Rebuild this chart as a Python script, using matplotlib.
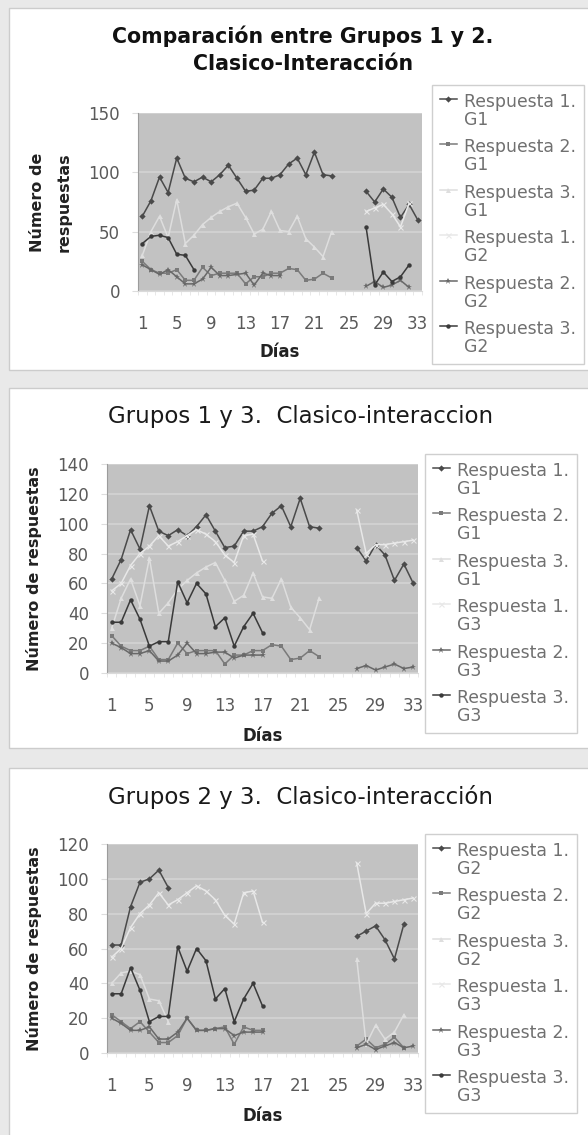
import numpy as np
import matplotlib
matplotlib.use("Agg")
import matplotlib.pyplot as plt
from matplotlib.patches import Rectangle

W, H = 588, 1135
N = None

days = list(range(1, 34))
xtick_days = [1, 5, 9, 13, 17, 21, 25, 29, 33]

# Grupo 1 (dias 1-23 y 27-33)
g1_r1 = [63, 76, 96, 83, 112, 95, 92, 96, 92, 98, 106, 95, 84, 85, 95, 95, 98, 107, 112, 98, 117, 98, 97,
         N, N, N, 84, 75, 86, 79, 62, 73, 60]
g1_r2 = [25, 18, 15, 15, 18, 9, 9, 20, 13, 15, 15, 15, 6, 12, 12, 15, 15, 19, 18, 9, 10, 15, 11,
         N, N, N, N, N, N, N, N, N, N]
g1_r3 = [30, 50, 63, 45, 77, 40, 47, 56, 62, 67, 71, 74, 62, 48, 52, 67, 51, 50, 63, 44, 37, 29, 50,
         N, N, N, N, N, N, N, N, N, N]
# Grupo 2
g2_r1 = [62, 62, 84, 98, 100, 105, 95, N, N, N, N, N, N, N, N, N, N, N, N, N, N, N, N,
         N, N, N, 67, 70, 73, 65, 54, 74, N]
# in the first chart only the late part of this series shows up
g2_r1_c1 = [N, N, N, N, N, N, N, N, N, N, N, N, N, N, N, N, N, N, N, N, N, N, N,
            N, N, N, 67, 70, 73, 65, 54, 74, N]
g2_r2 = [22, 18, 14, 18, 12, 6, 6, 10, 20, 13, 13, 14, 15, 5, 15, 13, 13, N, N, N, N, N, N,
         N, N, N, 4, 8, 3, 5, 9, 3, N]
g2_r3 = [40, 46, 47, 45, 31, 30, 18, N, N, N, N, N, N, N, N, N, N, N, N, N, N, N, N,
         N, N, N, 54, 5, 16, 8, 12, 22, N]
# Grupo 3
g3_r1 = [55, 60, 72, 80, 85, 92, 85, 88, 92, 96, 93, 88, 79, 74, 92, 93, 75, N, N, N, N, N, N,
         N, N, N, 109, 80, 86, 86, 87, 88, 89]
g3_r2 = [20, 17, 13, 13, 15, 8, 8, 12, 20, 13, 13, 14, 14, 10, 12, 12, 12, N, N, N, N, N, N,
         N, N, N, 3, 5, 2, 4, 6, 3, 4]
g3_r3 = [34, 34, 49, 36, 18, 21, 21, 61, 47, 60, 53, 31, 37, 18, 31, 40, 27, N, N, N, N, N, N,
         N, N, N, N, N, N, N, N, N, N]

# Excel grey-scale series styles: (colour, marker, size)
STYLES = [("#4a4a4a", "D", 3.2), ("#7a7a7a", "s", 3.2), ("#dedede", "^", 3.6),
          ("#e8e8e8", "x", 3.6), ("#686868", "*", 4.5), ("#3a3a3a", "o", 3.2)]

plt.rcParams.update({"font.family": "DejaVu Sans"})
fig = plt.figure(figsize=(W / 100, H / 100), dpi=100, facecolor="#e9e9e9")


def panel(y0, y1):
    fig.patches.append(Rectangle((9 / W, 1 - y1 / H), (W + 5 - 9) / W, (y1 - y0) / H,
                                 transform=fig.transFigure, facecolor="white",
                                 edgecolor="#cccccc", lw=1, zorder=-5))


def chart(box, series, labels, ymax, ystep, leg_xy, ylab, ylab_x, xlab_y):
    x0, y0, x1, y1 = box
    ax = fig.add_axes([x0 / W, 1 - y1 / H, (x1 - x0) / W, (y1 - y0) / H])
    ax.set_facecolor("#c2c2c2")
    for vals, lab, (c, m, ms) in zip(series, labels, STYLES):
        ax.plot(days, np.array(vals, dtype=float), color=c, marker=m, ms=ms, mew=0.8 if m == "x" else 0,
                mec=c, lw=1.1, label=lab, clip_on=False)
    ax.set_xlim(0.5, 33.5)
    ax.set_ylim(0, ymax)
    ax.set_yticks(range(0, ymax + 1, ystep))
    ax.set_xticks(xtick_days)
    ax.set_xticks(np.arange(0.5, 34.0, 1.0), minor=True)
    ax.grid(axis="y", color="#d0d0d0", lw=1.5)
    ax.set_axisbelow(True)
    for s in ("top", "right"):
        ax.spines[s].set_visible(False)
    ax.spines["left"].set_color("#9c9c9c")
    ax.spines["bottom"].set_color("#dadada")
    ax.tick_params(axis="x", which="major", length=0, pad=17, labelsize=12, labelcolor="#5a5a5a")
    ax.tick_params(axis="x", which="minor", length=3, color="#e4e4e4")
    ax.tick_params(axis="y", length=4, color="#dddddd", pad=9, labelsize=12, labelcolor="#5a5a5a")
    ax.set_xlabel("Días", fontsize=12, fontweight="bold", color="#222222")
    ax.xaxis.set_label_coords(0.5, xlab_y)
    ax.xaxis.label.set_va("center")
    ax.set_ylabel(ylab, fontsize=11.5, fontweight="bold", color="#222222", linespacing=2.0)
    ax.yaxis.set_label_coords(ylab_x, 0.5)
    ax.yaxis.label.set_va("center")
    leg = ax.legend(loc="upper left", bbox_to_anchor=(leg_xy[0] / W, 1 - leg_xy[1] / H),
                    bbox_transform=fig.transFigure, frameon=True, fancybox=False,
                    edgecolor="#cfcfcf", framealpha=1, fontsize=12.4, handlelength=1.0,
                    handletextpad=0.4, labelspacing=0.55, borderpad=0.45, borderaxespad=0)
    leg.get_frame().set_linewidth(1.0)
    for t in leg.get_texts():
        t.set_color("#707070")
        t.set_linespacing(1.0)
    # keep each legend marker level with the first line of its label
    for col in leg._legend_handle_box.get_children():
        for row in col.get_children():
            row.align = "top"
    return ax


def labels_for(a, b):
    return [f"Respuesta {r}.\nG{g}" for g in (a, b) for r in (1, 2, 3)]


panel(8, 370)
panel(388, 748)
panel(768, 1140)

# Chart 1
chart((138, 113, 422, 291), [g1_r1, g1_r2, g1_r3, g2_r1_c1, g2_r2, g2_r3], labels_for(1, 2),
      150, 50, (432, 85), "Número de\nrespuestas", -0.306, -0.34)
fig.text(303 / W, 1 - 50 / H, "Comparación entre Grupos 1 y 2.\nClasico-Interacción",
         ha="center", va="center", fontsize=14.8, fontweight="bold", linespacing=1.45, color="#111111")

# Chart 2
chart((107, 464, 418, 673), [g1_r1, g1_r2, g1_r3, g3_r1, g3_r2, g3_r3], labels_for(1, 3),
      140, 20, (425, 454), "Número de respuestas", -0.235, -0.30)
fig.text(301 / W, 1 - 417 / H, "Grupos 1 y 3.  Clasico-interaccion",
         ha="center", va="center", fontsize=16.5, color="#1a1a1a")

# Chart 3
chart((107, 844, 418, 1053), [g2_r1, g2_r2, g2_r3, g3_r1, g3_r2, g3_r3], labels_for(2, 3),
      120, 20, (425, 834), "Número de respuestas", -0.235, -0.30)
fig.text(301 / W, 1 - 797 / H, "Grupos 2 y 3.  Clasico-interacción",
         ha="center", va="center", fontsize=16.5, color="#1a1a1a")

fig.savefig("out.png", dpi=100, facecolor=fig.get_facecolor())
